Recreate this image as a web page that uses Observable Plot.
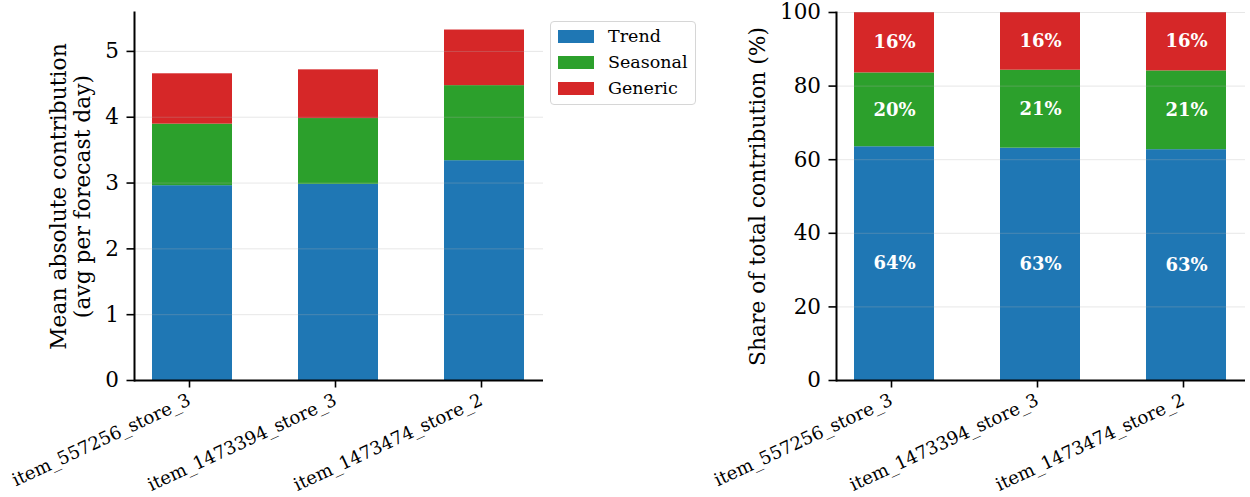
<!DOCTYPE html>
<html>
<head>
<meta charset="utf-8">
<script src="https://cdn.jsdelivr.net/npm/d3@7"></script>
<script src="https://cdn.jsdelivr.net/npm/@observablehq/plot@0.6"></script>
<style>
  body { margin: 0; background: #fff; }
  #wrap { position: relative; width: 1250px; height: 497px; font-family: "DejaVu Serif", serif; background: #fff; overflow: hidden; }
  #left, #right { position: absolute; top: 0; }
  #left { left: 0; }
  #right { left: 625px; }
  .legend { position: absolute; left: 550px; top: 21px; width: 144px; height: 82px; border: 1px solid #d6d6d6; border-radius: 4px; background: rgba(255,255,255,0.85); }
  .legend .row { position: absolute; left: 7px; height: 26px; display: flex; align-items: center; }
  .legend .sw { width: 36px; height: 13px; margin-right: 14px; }
  .legend .lab { font-family: "DejaVu Serif", serif; font-size: 17.5px; color: #000; line-height: 1; }
</style>
</head>
<body>
<div id="wrap">
  <div id="left"></div>
  <div id="right"></div>
  <div class="legend" id="legend"></div>
</div>
<script>
// ---- data ----
const items = ["item_557256_store_3", "item_1473394_store_3", "item_1473474_store_2"];
const components = ["Trend", "Seasonal", "Generic"];
const colors = ["#1f77b4", "#2ca02c", "#d62728"];
const trend = [2.96, 2.98, 3.34];
const seasonal = [0.935, 1.00, 1.14];
const generic = [0.765, 0.74, 0.845];
const yTicksLeft = [0, 1, 2, 3, 4, 5];
const yTicksRight = [0, 20, 40, 60, 80, 100];
const yLabelLeft = "Mean absolute contribution\n(avg per forecast day)";
const yLabelRight = "Share of total contribution (%)";

// ---- tables built from the arrays ----
const series = [trend, seasonal, generic];
const rows = [];
items.forEach((it, i) => {
  components.forEach((c, j) => rows.push({item: it, component: c, value: series[j][i]}));
});
const totals = items.map((it, i) => series.reduce((s, arr) => s + arr[i], 0));
const shareRows = rows.map(r => ({...r, share: 100 * r.value / totals[items.indexOf(r.item)]}));
const yMaxLeft = d3.max(totals) * 1.05;

const common = {
  width: 625,
  height: 497,
  marginTop: 12,
  marginBottom: 117,
  style: {fontFamily: "DejaVu Serif", fontSize: "20px", color: "#000", background: "transparent", overflow: "visible"},
  x: {domain: items, paddingInner: 0.45, paddingOuter: 0.125, align: 0.5, label: null},
  color: {domain: components, range: colors}
};

const axisMarks = (ticks) => [
  Plot.gridY(ticks, {stroke: "#b0b0b0", strokeOpacity: 0.3, strokeWidth: 1}),
  Plot.axisY(ticks, {tickSize: 7.5, tickPadding: 8, strokeWidth: 1.6, fontSize: 21.5, tickFormat: "d", label: null}),
  Plot.axisX({tickSize: 7.5, tickRotate: -25, tickPadding: 11, dx: -3, strokeWidth: 1.6, fontSize: 18, label: null}),
  Plot.ruleY([0], {strokeWidth: 2}),
  Plot.frame({anchor: "left", strokeWidth: 2})
];

const left = Plot.plot({
  ...common,
  marginLeft: 134,
  marginRight: 82,
  y: {domain: [0, yMaxLeft], label: null},
  marks: [
    Plot.barY(rows, {x: "item", y: "value", fill: "component", z: "component"}),
    ...axisMarks(yTicksLeft),
    Plot.text([yLabelLeft], {frameAnchor: "left", textAnchor: "middle", lineAnchor: "middle", rotate: -90, dx: -64, fontSize: 21.8, lineHeight: 1.08, fill: "#000"})
  ]
});

const right = Plot.plot({
  ...common,
  marginLeft: 211,
  marginRight: 5,
  y: {domain: [0, 100], label: null},
  marks: [
    Plot.barY(shareRows, {x: "item", y: "share", fill: "component", z: "component"}),
    ...axisMarks(yTicksRight),
    Plot.text(shareRows, Plot.stackY({x: "item", y: "share", z: "component", text: d => Math.round(d.share) + "%", fill: "white", fontWeight: "bold", fontSize: 18})),
    Plot.text([yLabelRight], {frameAnchor: "left", textAnchor: "middle", lineAnchor: "middle", rotate: -90, dx: -78, fontSize: 21.8, fill: "#000"})
  ]
});

document.getElementById("left").appendChild(left);
document.getElementById("right").appendChild(right);

// ---- legend ----
const legend = document.getElementById("legend");
components.forEach((c, j) => {
  const row = document.createElement("div");
  row.className = "row";
  row.style.top = (1.7 + 26 * j) + "px";
  const sw = document.createElement("div");
  sw.className = "sw";
  sw.style.background = colors[j];
  const lab = document.createElement("span");
  lab.className = "lab";
  lab.textContent = c;
  row.appendChild(sw);
  row.appendChild(lab);
  legend.appendChild(row);
});
</script>
</body>
</html>
